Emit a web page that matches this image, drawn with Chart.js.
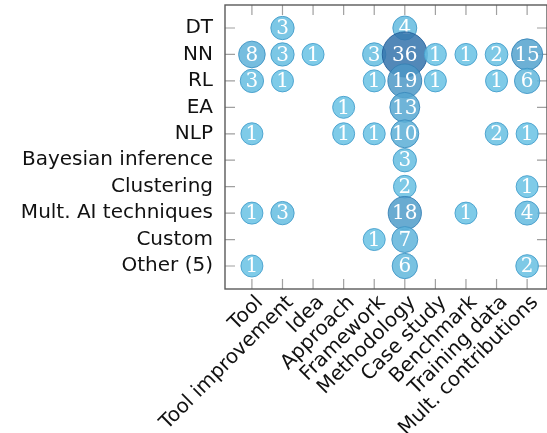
<!DOCTYPE html>
<html>
<head>
<meta charset="utf-8">
<script src="https://cdn.jsdelivr.net/npm/chart.js@4.4.1/dist/chart.umd.min.js"></script>
<style>
  html, body { margin: 0; padding: 0; background: #fff; }
  #wrap { width: 547px; height: 433px; }
</style>
</head>
<body>
<div id="wrap"><canvas id="bubbleChart"></canvas></div>
<script>
// categories
const contributions = ['Tool', 'Tool improvement', 'Idea', 'Approach', 'Framework', 'Methodology',
    'Case study', 'Benchmark', 'Training data', 'Mult. contributions'];
const techniques = ['DT', 'NN', 'RL', 'EA', 'NLP', 'Bayesian inference', 'Clustering',
    'Mult. AI techniques', 'Custom', 'Other (5)'];

// counts per technique, one value per contribution (0 = no bubble)
const dt         = [0, 3, 0, 0, 0, 4, 0, 0, 0, 0];
const nn         = [8, 3, 1, 0, 3, 36, 1, 1, 2, 15];
const rl         = [3, 1, 0, 0, 1, 19, 1, 0, 1, 6];
const ea         = [0, 0, 0, 1, 0, 13, 0, 0, 0, 0];
const nlp        = [1, 0, 0, 1, 1, 10, 0, 0, 2, 1];
const bayesian   = [0, 0, 0, 0, 0, 3, 0, 0, 0, 0];
const clustering = [0, 0, 0, 0, 0, 2, 0, 0, 0, 1];
const multAI     = [1, 3, 0, 0, 0, 18, 0, 1, 0, 4];
const custom     = [0, 0, 0, 0, 1, 7, 0, 0, 0, 0];
const other      = [1, 0, 0, 0, 0, 6, 0, 0, 0, 2];

const rows = [dt, nn, rl, ea, nlp, bayesian, clustering, multAI, custom, other];
const maxCount = 36;

function mix(a, b, t) {
    return a.map((v, i) => Math.round(v + (b[i] - v) * t));
}
function fillFor(v, alpha) {
    const c = mix([104, 194, 228], [52, 115, 172], (v - 1) / (maxCount - 1));
    return `rgba(${c[0]}, ${c[1]}, ${c[2]}, ${alpha})`;
}
function edgeFor(v) {
    const c = mix([70, 160, 205], [35, 95, 155], (v - 1) / (maxCount - 1));
    return `rgba(${c[0]}, ${c[1]}, ${c[2]}, 0.9)`;
}

const datasets = rows.map((row, yi) => ({
    label: techniques[yi],
    order: -yi,
    data: row.map((v, xi) => ({ x: xi, y: yi, v: v })).filter(p => p.v > 0),
    radius: ctx => 11 + (ctx.raw.v - 1) * 0.33,
    backgroundColor: ctx => fillFor(ctx.raw.v, 0.85),
    borderColor: ctx => edgeFor(ctx.raw.v),
    borderWidth: 1
}));

// inward ticks on all four sides + frame, numbers inside bubbles
const framePlugin = {
    id: 'frame',
    beforeDatasetsDraw(chart) {
        const { ctx, chartArea: a, scales } = chart;
        ctx.save();
        ctx.strokeStyle = '#a0a0a0';
        ctx.lineWidth = 1.2;
        ctx.beginPath();
        contributions.forEach((_, i) => {
            const px = scales.x.getPixelForValue(i);
            ctx.moveTo(px, a.bottom); ctx.lineTo(px, a.bottom - 10);
            ctx.moveTo(px, a.top); ctx.lineTo(px, a.top + 10);
        });
        techniques.forEach((_, i) => {
            const py = scales.y.getPixelForValue(i);
            ctx.moveTo(a.left, py); ctx.lineTo(a.left + 10, py);
            ctx.moveTo(a.right, py); ctx.lineTo(a.right - 10, py);
        });
        ctx.stroke();
        ctx.strokeStyle = '#5a5a5a';
        ctx.lineWidth = 1.4;
        ctx.strokeRect(a.left, a.top, a.right - a.left, a.bottom - a.top);
        ctx.restore();
    },
    afterDatasetDraw(chart, args) {
        const { ctx } = chart;
        const ds = chart.data.datasets[args.index];
        ctx.save();
        ctx.fillStyle = '#ffffff';
        ctx.font = '20px "DejaVu Serif", serif';
        ctx.textAlign = 'center';
        ctx.textBaseline = 'middle';
        args.meta.data.forEach((el, i) => {
            ctx.fillText(String(ds.data[i].v), el.x, el.y + 1);
        });
        ctx.restore();
    }
};

const ctx = document.getElementById('bubbleChart').getContext('2d');
const chart = new Chart(ctx, {
    type: 'bubble',
    data: { datasets: datasets },
    plugins: [framePlugin],
    options: {
        responsive: true,
        maintainAspectRatio: false,
        animation: false,
        layout: { autoPadding: false, padding: { top: 5, right: 0, left: 0, bottom: 0 } },
        plugins: {
            legend: { display: false },
            tooltip: { enabled: false }
        },
        scales: {
            x: {
                type: 'linear',
                min: -0.88,
                max: 9.65,
                grid: { display: false, tickLength: 2 },
                border: { display: false },
                afterBuildTicks: s => { s.ticks = contributions.map((_, i) => ({ value: i })); },
                afterFit: s => {
                    s.height = 144;
                    s.paddingLeft = 0;
                    s.paddingRight = 0;
                },
                ticks: {
                    autoSkip: false,
                    minRotation: 45,
                    maxRotation: 45,
                    padding: 0,
                    labelOffset: 8,
                    color: '#111',
                    font: { family: '"DejaVu Sans", sans-serif', size: 20 },
                    callback: v => contributions[v]
                }
            },
            y: {
                type: 'linear',
                reverse: true,
                min: -0.87,
                max: 9.87,
                grid: { display: false },
                border: { display: false },
                afterBuildTicks: s => { s.ticks = techniques.map((_, i) => ({ value: i })); },
                afterFit: s => {
                    s.width = 225;
                    s.paddingTop = 0;
                    s.paddingBottom = 0;
                },
                ticks: {
                    autoSkip: false,
                    padding: 4,
                    color: '#111',
                    font: { family: '"DejaVu Sans", sans-serif', size: 20 },
                    callback: v => techniques[v]
                }
            }
        }
    }
});
</script>
</body>
</html>
